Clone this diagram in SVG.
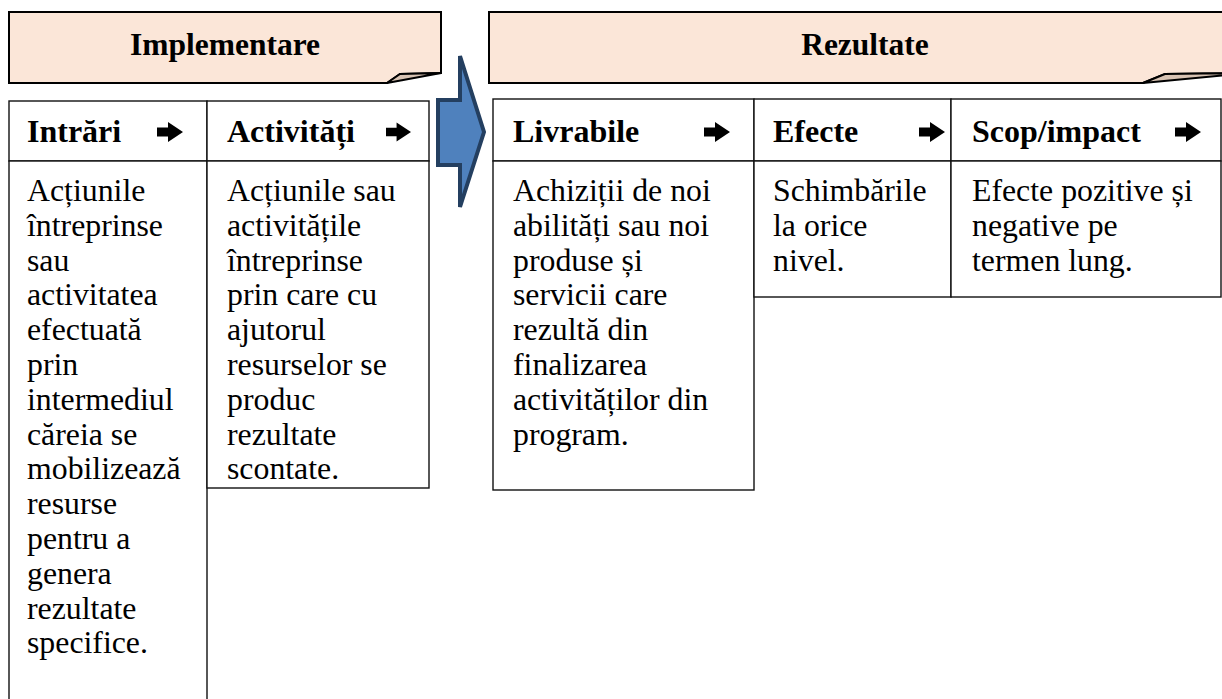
<svg xmlns="http://www.w3.org/2000/svg" width="1222" height="699" viewBox="0 0 1222 699">
  <defs>
    <style>
      .banner { fill: #fbe6d8; stroke: #000; stroke-width: 2; stroke-linejoin: miter; }
      .flap { fill: #d8c3b3; stroke: #000; stroke-width: 2; stroke-linejoin: round; }
      .cell { fill: #fff; stroke: #111; stroke-width: 1.4; }
      .title { font-family: "Liberation Serif", "Times New Roman", serif; font-weight: bold; font-size: 31.5px; fill: #000; }
      .head { font-family: "Liberation Serif", "Times New Roman", serif; font-weight: bold; font-size: 32px; fill: #000; }
      .body { font-family: "Liberation Serif", "Times New Roman", serif; font-size: 31.8px; fill: #000; }
      .flow { fill: #4f81bd; stroke: #243f60; stroke-width: 4; stroke-linejoin: miter; }
    </style>
    <!-- small black block arrow used in the column headers -->
    <symbol id="blk" viewBox="0 0 26 20" overflow="visible">
      <path d="M0,5.5 H11 V0 L26,10 L11,20 V14.5 H0 Z" fill="#000"/>
    </symbol>
  </defs>

  <rect width="1222" height="699" fill="#fff"/>

  <!-- Banner: Implementare -->
  <g id="banner-implementare">
    <path class="banner" d="M9,12 H441 V73 L400,74 L387,83 H9 Z"/>
    <path class="flap" d="M387,83 L400,74 L441,73 Z"/>
    <text class="title" x="225" y="55" text-anchor="middle">Implementare</text>
  </g>

  <!-- Banner: Rezultate (runs past the right edge) -->
  <g id="banner-rezultate">
    <path class="banner" d="M489,12 H1250 V73 L1165,74 L1143,83 H489 Z"/>
    <path class="flap" d="M1143,83 L1165,74 L1250,73 Z"/>
    <text class="title" x="865" y="55" text-anchor="middle">Rezultate</text>
  </g>

  <!-- Column: Intrări -->
  <g id="col-intrari">
    <rect class="cell" x="9" y="101" width="198" height="60"/>
    <rect class="cell" x="9" y="161" width="198" height="545"/>
    <text class="head" x="27" y="142">Intrări</text>
    <use href="#blk" x="157" y="122" width="26" height="20"/>
    <text class="body">
      <tspan x="27" y="201">Acțiunile</tspan>
      <tspan x="27" dy="34.8">întreprinse</tspan>
      <tspan x="27" dy="34.8">sau</tspan>
      <tspan x="27" dy="34.8">activitatea</tspan>
      <tspan x="27" dy="34.8">efectuată</tspan>
      <tspan x="27" dy="34.8">prin</tspan>
      <tspan x="27" dy="34.8">intermediul</tspan>
      <tspan x="27" dy="34.8">căreia se</tspan>
      <tspan x="27" dy="34.8">mobilizează</tspan>
      <tspan x="27" dy="34.8">resurse</tspan>
      <tspan x="27" dy="34.8">pentru a</tspan>
      <tspan x="27" dy="34.8">genera</tspan>
      <tspan x="27" dy="34.8">rezultate</tspan>
      <tspan x="27" dy="34.8">specifice.</tspan>
    </text>
  </g>

  <!-- Column: Activități -->
  <g id="col-activitati">
    <rect class="cell" x="207" y="101" width="222" height="60"/>
    <rect class="cell" x="207" y="161" width="222" height="327"/>
    <text class="head" x="227" y="142">Activități</text>
    <use href="#blk" x="386" y="122" width="25" height="20"/>
    <text class="body">
      <tspan x="227" y="201">Acțiunile sau</tspan>
      <tspan x="227" dy="34.8">activitățile</tspan>
      <tspan x="227" dy="34.8">întreprinse</tspan>
      <tspan x="227" dy="34.8">prin care cu</tspan>
      <tspan x="227" dy="34.8">ajutorul</tspan>
      <tspan x="227" dy="34.8">resurselor se</tspan>
      <tspan x="227" dy="34.8">produc</tspan>
      <tspan x="227" dy="34.8">rezultate</tspan>
      <tspan x="227" dy="34.8">scontate.</tspan>
    </text>
  </g>

  <!-- Column: Livrabile -->
  <g id="col-livrabile">
    <rect class="cell" x="493" y="99" width="261" height="62"/>
    <rect class="cell" x="493" y="161" width="261" height="329"/>
    <text class="head" x="513" y="142">Livrabile</text>
    <use href="#blk" x="704" y="122" width="26" height="20"/>
    <text class="body">
      <tspan x="513" y="201">Achiziții de noi</tspan>
      <tspan x="513" dy="34.8">abilități sau noi</tspan>
      <tspan x="513" dy="34.8">produse și</tspan>
      <tspan x="513" dy="34.8">servicii care</tspan>
      <tspan x="513" dy="34.8">rezultă din</tspan>
      <tspan x="513" dy="34.8">finalizarea</tspan>
      <tspan x="513" dy="34.8">activităților din</tspan>
      <tspan x="513" dy="34.8">program.</tspan>
    </text>
  </g>

  <!-- Column: Efecte -->
  <g id="col-efecte">
    <rect class="cell" x="754" y="99" width="197" height="62"/>
    <rect class="cell" x="754" y="161" width="197" height="136"/>
    <text class="head" x="773" y="142">Efecte</text>
    <use href="#blk" x="919" y="122" width="26" height="20"/>
    <text class="body">
      <tspan x="773" y="201">Schimbările</tspan>
      <tspan x="773" dy="34.8">la orice</tspan>
      <tspan x="773" dy="34.8">nivel.</tspan>
    </text>
  </g>

  <!-- Column: Scop/impact -->
  <g id="col-scop">
    <rect class="cell" x="951" y="99" width="270" height="62"/>
    <rect class="cell" x="951" y="161" width="270" height="136"/>
    <text class="head" x="972" y="142">Scop/impact</text>
    <use href="#blk" x="1175" y="122" width="26" height="20"/>
    <text class="body">
      <tspan x="972" y="201">Efecte pozitive și</tspan>
      <tspan x="972" dy="34.8">negative pe</tspan>
      <tspan x="972" dy="34.8">termen lung.</tspan>
    </text>
  </g>

  <!-- Connector: implementation leads to results -->
  <g id="connectors">
    <path class="flow" d="M438,100 H460 V56 L484,132 L460,207 V165 H438 Z"/>
  </g>
</svg>
